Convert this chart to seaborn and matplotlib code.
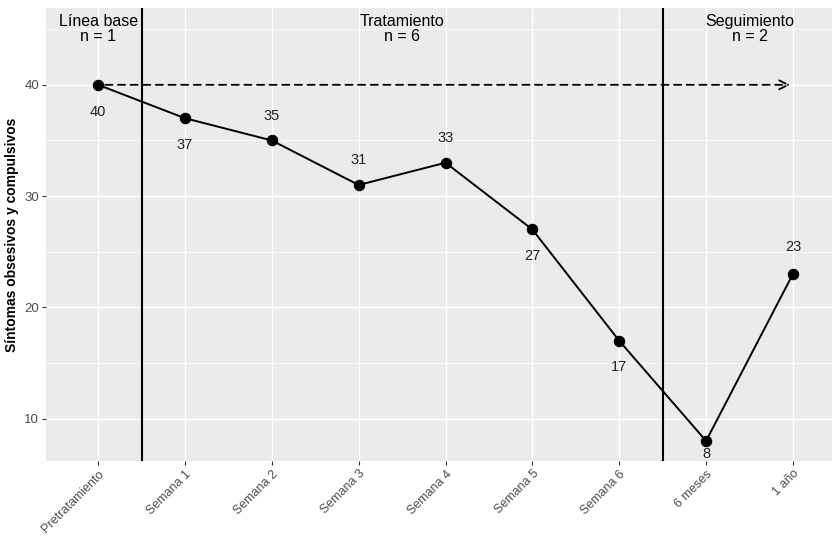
import matplotlib
matplotlib.use("Agg")
import matplotlib.pyplot as plt
import seaborn as sns
import pandas as pd
import numpy as np

categories = ["Pretratamiento", "Semana 1", "Semana 2", "Semana 3", "Semana 4",
              "Semana 5", "Semana 6", "6 meses", "1 año"]
scores = [40, 37, 35, 31, 33, 27, 17, 8, 23]
label_offset = [-2.4, -2.4, 2.2, 2.2, 2.2, -2.4, -2.4, -1.2, 2.4]
phase_titles = ["Línea base\nn = 1", "Tratamiento\nn = 6", "Seguimiento\nn = 2"]
phase_centers = [0, 3.5, 7.5]
phase_breaks = [0.5, 6.5]

df = pd.DataFrame({"x": np.arange(len(categories)), "y": scores})

sns.set_theme(style="darkgrid", rc={
    "axes.facecolor": "#EBEBEB",
    "grid.color": "white",
})
plt.rcParams["font.family"] = ["Liberation Sans", "DejaVu Sans"]

fig = plt.figure(figsize=(8.32, 5.36), dpi=100)
ax = fig.add_axes([0.0553, 0.14, 0.9447, 0.845])

sns.lineplot(data=df, x="x", y="y", ax=ax, color="black", linewidth=1.4,
             marker="o", markersize=7.5, markeredgecolor="black", zorder=3)

for xi, yi, off in zip(df["x"], df["y"], label_offset):
    ax.text(xi, yi + off, str(yi), ha="center", va="center",
            fontsize=10.5, color="#222222")

for b in phase_breaks:
    ax.axvline(b, color="black", linewidth=1.5, zorder=2)

for cx, t in zip(phase_centers, phase_titles):
    ax.text(cx, 46.4, t, ha="center", va="top", fontsize=11.5, color="black",
            linespacing=1.0)

ax.annotate("", xy=(8.0, 40), xytext=(0.05, 40),
            arrowprops=dict(arrowstyle="->", linestyle=(0, (4, 3)),
                            color="black", lw=1.3, mutation_scale=16),
            zorder=2)

ax.set_xlim(-0.6, 8.45)
ax.set_ylim(6.2, 46.9)
ax.set_xticks(df["x"])
ax.set_xticklabels(categories, rotation=45, ha="right", rotation_mode="anchor",
                   fontsize=9, color="#4D4D4D")
ax.set_yticks([10, 20, 30, 40])
ax.set_yticks([15, 25, 35, 45], minor=True)
ax.tick_params(axis="y", labelsize=9.5, labelcolor="#4D4D4D", pad=2)
ax.tick_params(axis="x", pad=2)
ax.tick_params(axis="both", which="major", length=3, color="#333333",
               bottom=True, left=True, width=0.8)
ax.tick_params(axis="both", which="minor", length=0)
ax.grid(which="major", color="white", linewidth=1.0)
ax.grid(which="minor", axis="y", color="white", linewidth=0.5)
for sp in ax.spines.values():
    sp.set_visible(False)
ax.set_xlabel("")
ax.set_ylabel("Síntomas obsesivos y compulsivos", fontsize=10,
              fontweight="bold", color="black", labelpad=4)

fig.savefig("out.png", dpi=100)
